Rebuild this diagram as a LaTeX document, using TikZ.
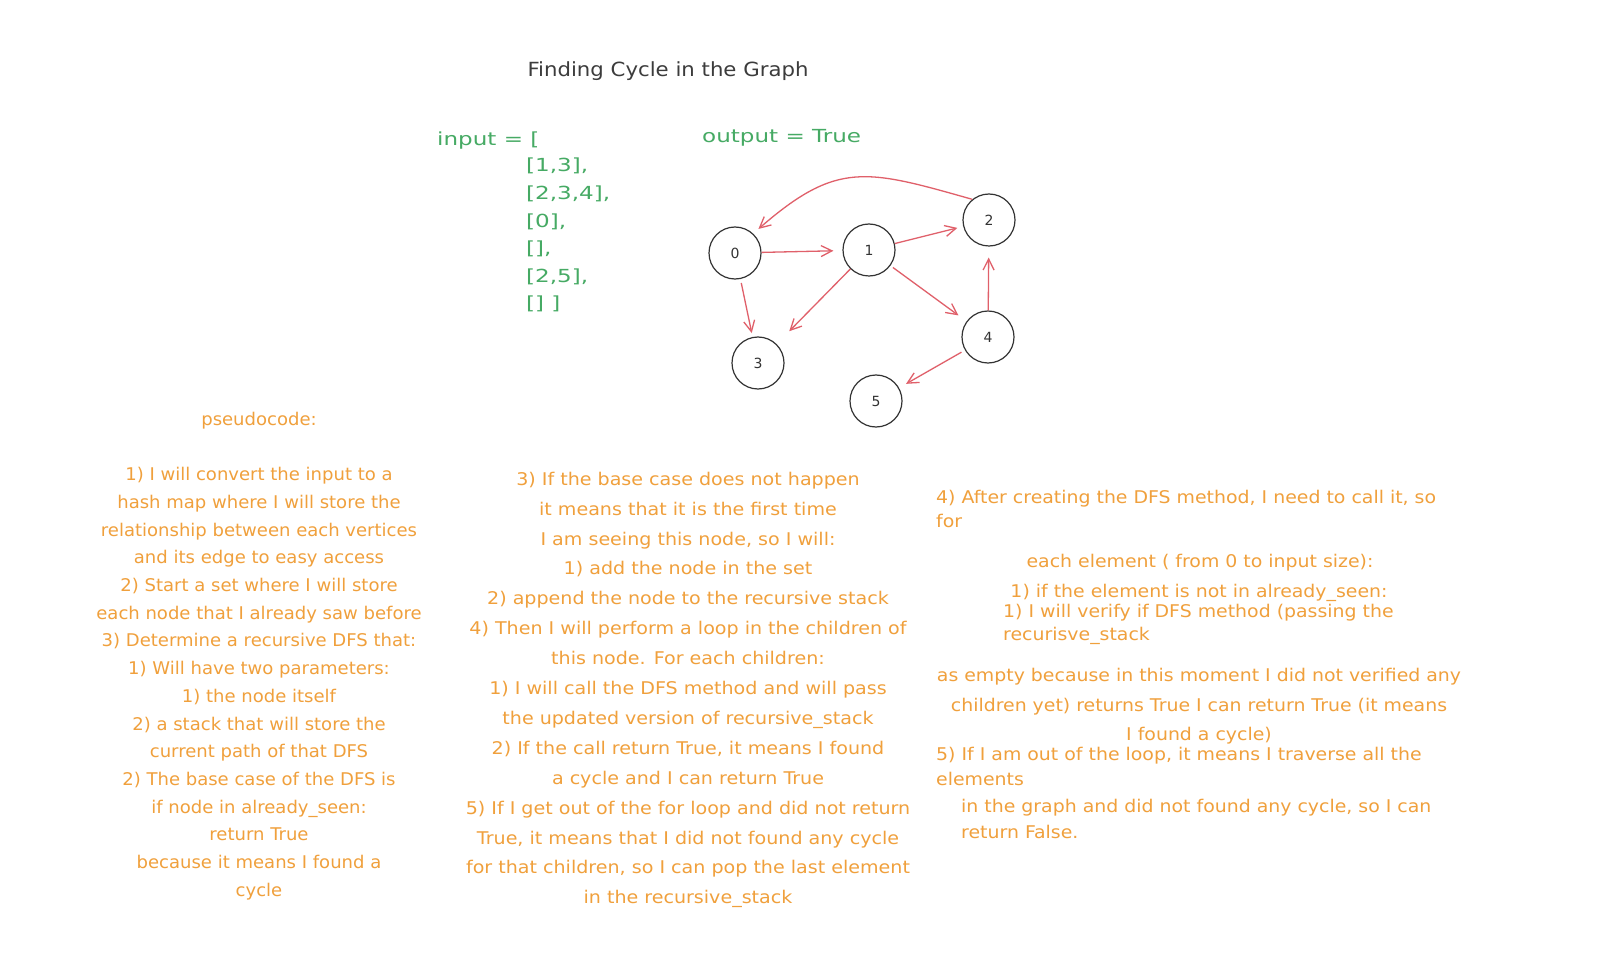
\documentclass[tikz,border=0pt]{standalone}
\usepackage{fontspec}
\setmainfont{DejaVu Sans}
\newfontfamily\ttlfont[FakeStretch=1.09]{DejaVu Sans}
\newfontfamily\grnfont[FakeStretch=1.28]{DejaVu Sans}
\newfontfamily\cola[FakeStretch=1.03]{DejaVu Sans}
\newfontfamily\colb[FakeStretch=1.09]{DejaVu Sans}
\newfontfamily\colc[FakeStretch=1.08]{DejaVu Sans}
\usetikzlibrary{arrows.meta}
\definecolor{ttl}{HTML}{3C3C3C}
\definecolor{grn}{HTML}{46AA64}
\definecolor{org}{HTML}{F0A03C}
\definecolor{edg}{HTML}{E0606A}
\definecolor{ring}{HTML}{333333}
\begin{document}
\begin{tikzpicture}[x=1pt,y=-1pt,
  vert/.style={circle,draw=ring,line width=1.2pt,minimum size=52pt,inner sep=0pt,font=\fontsize{14}{16}\selectfont,text=ring},
  edge/.style={draw=edg,line width=1.3pt,-{Straight Barb[length=11pt,width=11pt,line width=1.3pt]}},
  gtxt/.style={text=grn,font=\grnfont\fontsize{18}{27.6}\selectfont,inner sep=0pt},
  otxt/.style={text=org,font=\colc\fontsize{17.5}{22.5}\selectfont,inner sep=0pt}]
\useasboundingbox[fill=white] (0,0) rectangle (1600,965);

\node[text=ttl,font=\ttlfont\fontsize{19.5}{24}\selectfont] (title) at (668,71) {Finding Cycle in the Graph};

\node[gtxt,anchor=west] (in0) at (437,141) {input = [};
\node[gtxt,anchor=north west,align=left] (inl) at (526,158) {{[}1,3],\\ {[}2,3,4],\\ {[}0],\\ {[}],\\ {[}2,5],\\ {[}] ]};
\node[gtxt,anchor=west] (out) at (702,138) {output = True};

\node[vert] (n0) at (735,253) {0};
\node[vert] (n1) at (869,250) {1};
\node[vert] (n2) at (989,220) {2};
\node[vert] (n3) at (758,363) {3};
\node[vert] (n4) at (988,337) {4};
\node[vert] (n5) at (876,401) {5};

\draw[edge,shorten >=9pt] (n0) -- (n1);
\draw[edge,shorten >=6pt] (n1) -- (n2);
\draw[edge,shorten <=3pt,shorten >=10pt] (n1) -- (n4);
\draw[edge,shorten >=18pt] (n1) -- (n3);
\draw[edge,shorten <=4pt,shorten >=4pt] (n0) -- (n3);
\draw[edge,shorten >=11pt] (n4) -- (n2);
\draw[edge,shorten <=4pt,shorten >=8pt] (n4) -- (n5);
\draw[edge,shorten >=7pt] (n2.129) .. controls +(-106,-30) and +(84,-73) .. (n0.47);

\node[otxt,align=center,font=\cola\fontsize{17.5}{27.7}\selectfont] (col1) at (259,656) {pseudocode:\\[27.7pt]
1) I will convert the input to a\\
hash map where I will store the\\
relationship between each vertices\\
and its edge to easy access\\
2) Start a set where I will store\\
each node that I already saw before\\
3) Determine a recursive DFS that:\\
1) Will have two parameters:\\
1) the node itself\\
2) a stack that will store the\\
current path of that DFS\\
2) The base case of the DFS is\\
if node in already\_seen:\\
return True\\
because it means I found a\\
cycle};

\node[otxt,align=center,font=\colb\fontsize{17.5}{29.9}\selectfont] (col2) at (688,690) {3) If the base case does not happen\\
it means that it is the first time\\
I am seeing this node, so I will:\\
1) add the node in the set\\
2) append the node to the recursive stack\\
4) Then I will perform a loop in the children of\\
this node. For each children:\\
1) I will call the DFS method and will pass\\
the updated version of recursive\_stack\\
2) If the call return True, it means I found\\
a cycle and I can return True\\
5) If I get out of the for loop and did not return\\
True, it means that I did not found any cycle\\
for that children, so I can pop the last element\\
in the recursive\_stack};

\node[otxt,anchor=west] (c3a) at (936,499) {4) After creating the DFS method, I need to call it, so};
\node[otxt,anchor=west] (c3b) at (936,521) {for};
\node[otxt] (c3c) at (1200,563) {each element ( from 0 to input size):};
\node[otxt] (c3d) at (1199,593) {1) if the element is not in already\_seen:};
\node[otxt,anchor=west] (c3e) at (1003,613) {1) I will verify if DFS method (passing the};
\node[otxt,anchor=west] (c3f) at (1003,636) {recurisve\_stack};
\node[otxt] (c3g) at (1199,677) {as empty because in this moment I did not verified any};
\node[otxt] (c3h) at (1199,707) {children yet) returns True I can return True (it means};
\node[otxt] (c3i) at (1199,736) {I found a cycle)};
\node[otxt,anchor=west] (c3j) at (936,756) {5) If I am out of the loop, it means I traverse all the};
\node[otxt,anchor=west] (c3k) at (936,779) {elements};
\node[otxt,anchor=west] (c3l) at (961,808) {in the graph and did not found any cycle, so I can};
\node[otxt,anchor=west] (c3m) at (961,832) {return False.};
\end{tikzpicture}
\end{document}
